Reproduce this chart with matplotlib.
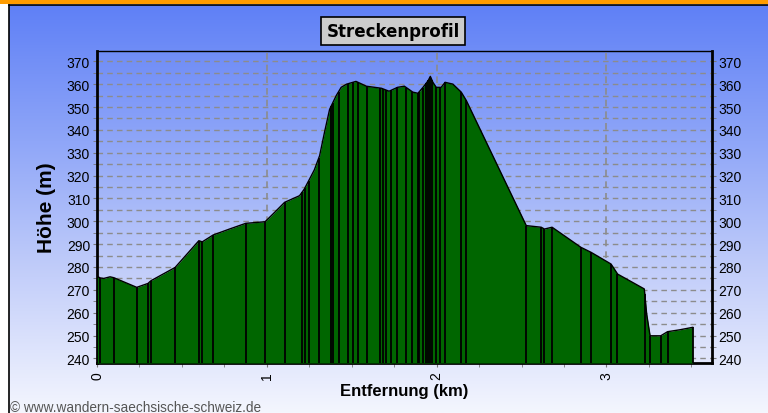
import matplotlib.pyplot as plt
import numpy as np
from matplotlib.colors import LinearSegmentedColormap
from matplotlib.patches import Rectangle

# Höhenprofil (Entfernung in km, Höhe in m)
dist_km = [
    0.0, 0.02, 0.04, 0.077, 0.10, 0.234, 0.30, 0.318, 0.46, 0.60, 0.62, 0.684,
    0.78, 0.876, 0.99, 1.046, 1.105, 1.193, 1.22, 1.252, 1.28, 1.311, 1.34,
    1.37, 1.409, 1.438, 1.47, 1.507, 1.525, 1.537, 1.586, 1.635, 1.675, 1.72,
    1.77, 1.81, 1.86, 1.89, 1.92, 1.95, 1.963, 1.978, 1.998, 2.027, 2.05,
    2.096, 2.145, 2.175, 2.528, 2.616, 2.635, 2.68, 2.85, 2.91, 3.027, 3.066,
    3.223, 3.237, 3.257, 3.32, 3.36, 3.43, 3.508,
]
hoehe_m = [
    275.9, 275.2, 275.0, 275.7, 275.3, 271.1, 272.8, 274.0, 279.8, 291.5, 291.0,
    294.0, 296.6, 299.1, 299.8, 303.9, 308.3, 311.2, 314.0, 318.5, 322.5, 328.7,
    339.0, 349.0, 355.0, 358.6, 360.0, 360.8, 361.2, 360.8, 359.1, 358.6, 358.2,
    356.9, 358.6, 359.1, 356.5, 356.0, 358.6, 361.5, 363.4, 360.8, 358.6, 358.6,
    360.8, 360.0, 356.5, 352.8, 298.1, 297.4, 296.6, 297.4, 288.6, 286.4, 281.3,
    276.9, 270.4, 259.4, 249.9, 249.9, 251.7, 252.5, 253.6,
]

# Wegpunkte (senkrechte Linien)
wegpunkte_km = [
    0.0, 0.02, 0.10, 0.234, 0.30, 0.318, 0.46, 0.60, 0.62, 0.684, 0.876, 0.99,
    1.105, 1.209, 1.223, 1.246, 1.307, 1.380, 1.389, 1.423, 1.477, 1.507,
    1.536, 1.589, 1.664, 1.687, 1.703, 1.733, 1.768, 1.821, 1.856, 1.889,
    1.899, 1.918, 1.938, 1.952, 1.962, 1.971, 1.997, 2.022, 2.050, 2.144,
    2.173, 2.528, 2.614, 2.634, 2.679, 2.850, 2.909, 3.026, 3.065, 3.226,
    3.257, 3.32, 3.36, 3.508,
]

y_ticks = list(range(240, 371, 10))
x_ticks = [0, 1, 2, 3]

plt.rcParams["font.family"] = ["Liberation Sans", "DejaVu Sans"]

fig = plt.figure(figsize=(7.68, 4.14), dpi=100)

# Hintergrund mit Farbverlauf
bg = fig.add_axes([9 / 768, 0, 1 - 9 / 768, 1 - 6 / 414], zorder=0)
cmap = LinearSegmentedColormap.from_list(
    "bg", ["#f4f6fe", "#c4cffa", "#8fa6f8", "#5f80f6"]
)
grad = np.linspace(0, 1, 256).reshape(-1, 1)
bg.imshow(grad, aspect="auto", cmap=cmap, origin="lower", extent=[0, 1, 0, 1])
bg.set_xticks([])
bg.set_yticks([])
for s in ["right", "bottom"]:
    bg.spines[s].set_visible(False)
bg.spines["left"].set_linewidth(1.2)
bg.spines["top"].set_linewidth(1.2)

fig.patches.append(
    Rectangle((0, 1 - 5 / 414), 1, 5 / 414, transform=fig.transFigure,
              facecolor="#ff9c00", edgecolor="none", zorder=1)
)

ax = fig.add_axes([97 / 768, 1 - 364 / 414, 614.7 / 768, 312 / 414], zorder=2)
ax.patch.set_alpha(0)

ymin, ymax = 238, 374.5
x = np.array(dist_km)
y = np.array(hoehe_m)
ax.fill_between(x, y, ymin, color="#006600", linewidth=0, zorder=3)
ax.plot(x, y, color="black", linewidth=1.0, zorder=4)
tops = np.interp(wegpunkte_km, x, y)
ax.vlines(wegpunkte_km, ymin, tops, colors="black", linewidth=1.3, zorder=4)

ax.set_xlim(0, 3.62)
ax.set_ylim(ymin, ymax)

ax.set_yticks(y_ticks)
ax.set_yticks(list(range(240, 375, 5)), minor=True)
ax.set_xticks(x_ticks)
ax.set_xticks(np.arange(0, 3.6, 0.25), minor=True)
ax.set_xticklabels([str(t) for t in x_ticks], rotation=90)

ax.grid(True, which="both", axis="y", color="#8c8c8c", linestyle=(0, (4, 3)),
        linewidth=1.0, zorder=1)
ax.grid(True, which="major", axis="x", color="#8c8c8c", linestyle=(0, (4, 3)),
        linewidth=1.2, zorder=1)
ax.set_axisbelow(True)

ax.tick_params(axis="y", which="both", left=True, right=True, labelleft=True,
               labelright=True, direction="out", length=3, color="#777777",
               labelsize=10, pad=2)
ax.tick_params(axis="x", which="both", direction="out", length=3,
               color="#777777", labelsize=10, pad=3)

ax.spines["left"].set_linewidth(2)
ax.spines["bottom"].set_linewidth(2)
ax.spines["right"].set_linewidth(2)
ax.spines["top"].set_linewidth(1)

ax.set_ylabel("Höhe (m)", fontsize=15, fontweight="bold", labelpad=8)
ax.set_xlabel("Entfernung (km)", fontsize=12, fontweight="bold", labelpad=3)

fig.text(393 / 768, 1 - 32 / 414, "Streckenprofil", ha="center", va="center",
         fontsize=12, fontweight="bold", family=["DejaVu Sans"],
         bbox=dict(boxstyle="square,pad=0.3", facecolor="#cccccc",
                   edgecolor="black", linewidth=1.2), zorder=5)

fig.text(10 / 768, 1 - 408 / 414, "© www.wandern-saechsische-schweiz.de",
         ha="left", va="center", fontsize=9.8, color="#555555", zorder=5)

fig.savefig("out.png", dpi=100)
